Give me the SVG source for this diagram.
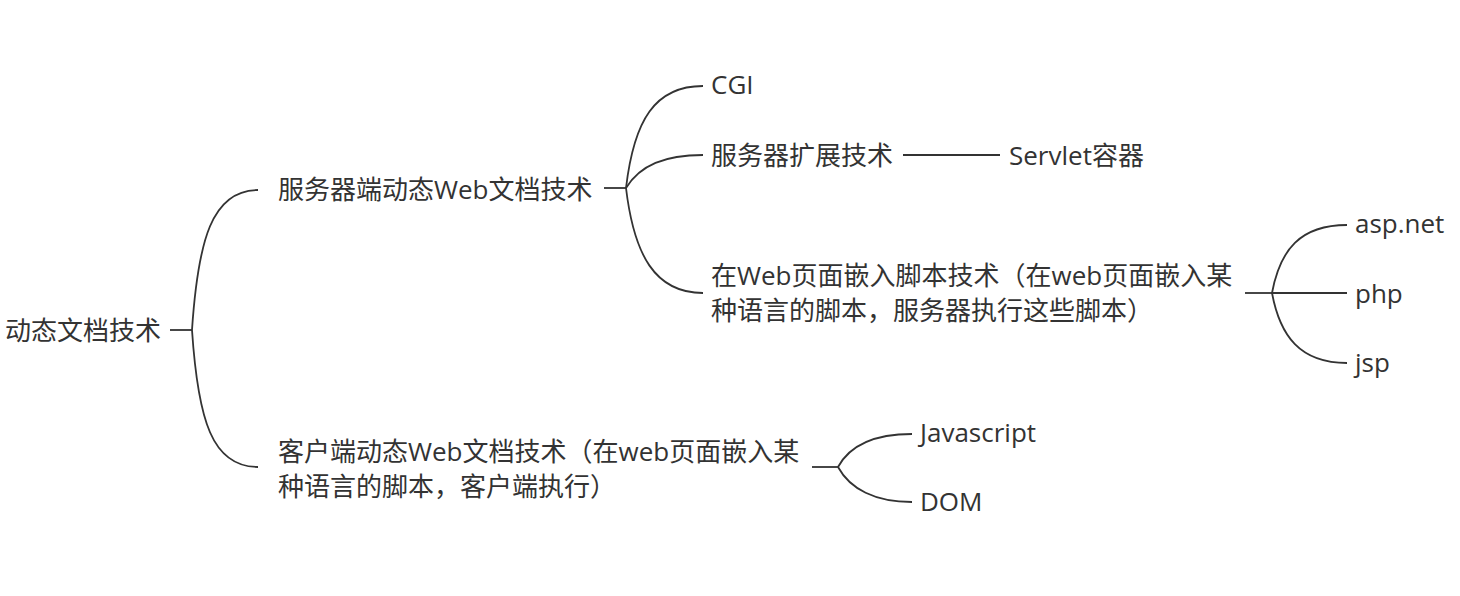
<svg xmlns="http://www.w3.org/2000/svg" width="1460" height="596" viewBox="0 0 1460 596">
<style>
text{font-family:"Open Sans","Noto Sans CJK SC",sans-serif;font-size:26px;fill:#333;dominant-baseline:central}
.c path{fill:none;stroke:#333;stroke-width:1.8}
</style>
<rect width="1460" height="596" fill="#fff"/>
<g class="c" id="connectors">
<path d="M170 330 H192"/>
<path d="M192 330 C198 240 212 190 258 190"/>
<path d="M192 330 C198 420 212 467 258 467"/>
<path d="M604 188 H626"/>
<path d="M626 188 C634 120 655 86 703 86"/>
<path d="M626 188 C640 165 665 155 703 155"/>
<path d="M626 188 C634 255 655 293 703 293"/>
<path d="M903 155 H1000"/>
<path d="M1245 293 H1272"/>
<path d="M1272 293 C1280 250 1300 225 1347 225"/>
<path d="M1272 293 H1347"/>
<path d="M1272 293 C1280 336 1300 363 1347 363"/>
<path d="M812 467 H838"/>
<path d="M838 467 C850 445 875 434 912 434"/>
<path d="M838 467 C850 489 875 502 912 502"/>
</g>
<g id="root"><text x="5" y="330">动态文档技术</text></g>
<g id="server"><text x="278" y="189">服务器端动态Web文档技术</text></g>
<g id="client"><text x="278" y="451">客户端动态Web文档技术（在web页面嵌入某</text><text x="278" y="486">种语言的脚本，客户端执行）</text></g>
<g id="cgi"><text x="711" y="84">CGI</text></g>
<g id="ext"><text x="711" y="155">服务器扩展技术</text></g>
<g id="servlet"><text x="1009" y="155">Servlet容器</text></g>
<g id="embed"><text x="711" y="275">在Web页面嵌入脚本技术（在web页面嵌入某</text><text x="711" y="310">种语言的脚本，服务器执行这些脚本）</text></g>
<g id="asp"><text x="1355" y="223">asp.net</text></g>
<g id="php"><text x="1355" y="293">php</text></g>
<g id="jsp"><text x="1355" y="362">jsp</text></g>
<g id="js"><text x="920" y="432">Javascript</text></g>
<g id="dom"><text x="920" y="501">DOM</text></g>
</svg>
